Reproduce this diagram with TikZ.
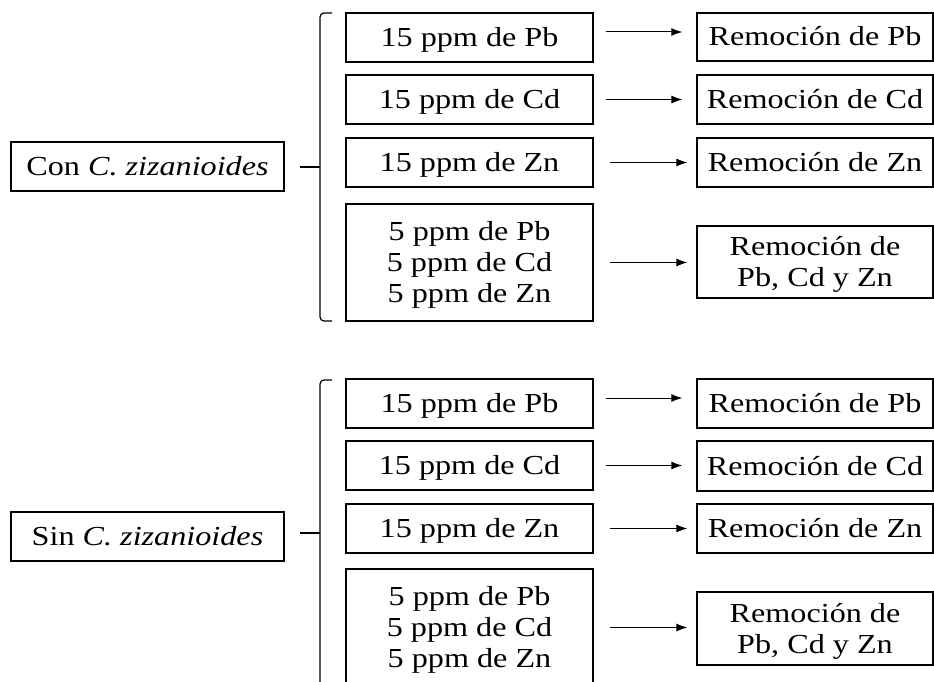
\documentclass[tikz,border=0pt]{standalone}
\usepackage{fontspec}
\setmainfont[FakeStretch=1.17]{Liberation Serif}
\usetikzlibrary{arrows.meta}
\begin{document}
\begin{tikzpicture}[x=1pt,y=-1pt]
            \tikzstyle{boxp}=[draw,line width=1.3pt,inner sep=0pt,font=\fontsize{27.5}{31}\selectfont,text height=18pt,text depth=0pt]
            \tikzstyle{multip}=[draw,line width=1.3pt,inner sep=0pt,font=\fontsize{27.5}{31}\selectfont,align=center]
            \tikzstyle{arrowp}=[line width=1pt,-{Latex[length=11pt,width=8pt]}]
            \tikzstyle{bracep}=[line width=1.2pt,rounded corners=4pt]

            \useasboundingbox (0,0) rectangle (934,682);
            \clip (0,0) rectangle (934,682);

            %con_group
            \node[boxp,minimum width=273pt,minimum height=49pt] (con) at (147.5,166.5) {Con \textit{C. zizanioides}};

            \node[boxp,minimum width=247pt,minimum height=49pt] (cm1) at (469.5,37.5) {15 ppm de Pb};
            \node[boxp,minimum width=247pt,minimum height=49pt] (cm2) at (469.5,99.5) {15 ppm de Cd};
            \node[boxp,minimum width=247pt,minimum height=49pt] (cm3) at (469.5,162.5) {15 ppm de Zn};
            \node[multip,minimum width=247pt,minimum height=117pt] (cm4) at (469.5,262.5) {\rule{0pt}{23pt}5 ppm de Pb\\5 ppm de Cd\\5 ppm de Zn};

            \node[boxp,minimum width=236pt,minimum height=48pt] (cr1) at (815,37) {Remoción de Pb};
            \node[boxp,minimum width=236pt,minimum height=49pt] (cr2) at (815,99.5) {Remoción de Cd};
            \node[boxp,minimum width=236pt,minimum height=49pt] (cr3) at (815,162.5) {Remoción de Zn};
            \node[multip,minimum width=236pt,minimum height=72pt] (cr4) at (815,262) {\rule{0pt}{24pt}Remoción de\\Pb, Cd y Zn};

            \draw[bracep] (332,13) -- (320,13) -- (320,321) -- (332,321);
            \draw[line width=1.2pt] (300,167) -- (320,167);

            %sin_group
            \node[boxp,minimum width=273pt,minimum height=49pt] (sin) at (147.5,536.5) {Sin \textit{C. zizanioides}};

            \node[boxp,minimum width=247pt,minimum height=49pt] (sm1) at (469.5,403.5) {15 ppm de Pb};
            \node[boxp,minimum width=247pt,minimum height=49pt] (sm2) at (469.5,465.5) {15 ppm de Cd};
            \node[boxp,minimum width=247pt,minimum height=49pt] (sm3) at (469.5,528.5) {15 ppm de Zn};
            \node[multip,minimum width=247pt,minimum height=117pt] (sm4) at (469.5,627.5) {\rule{0pt}{23pt}5 ppm de Pb\\5 ppm de Cd\\5 ppm de Zn};

            \node[boxp,minimum width=236pt,minimum height=49pt] (sr1) at (815,403.5) {Remoción de Pb};
            \node[boxp,minimum width=236pt,minimum height=50pt] (sr2) at (815,466) {Remoción de Cd};
            \node[boxp,minimum width=236pt,minimum height=49pt] (sr3) at (815,528.5) {Remoción de Zn};
            \node[multip,minimum width=236pt,minimum height=73pt] (sr4) at (815,628.5) {\rule{0pt}{24pt}Remoción de\\Pb, Cd y Zn};

            \draw[bracep] (332,380) -- (320,380) -- (320,686) -- (332,686);
            \draw[line width=1.2pt] (300,533) -- (320,533);

            %arrows
            \foreach \g in {c,s}
            {
                \draw[arrowp,shorten <=12pt,shorten >=14pt] ([yshift=5.5pt]\g m1.east) -- ([yshift=5.5pt]\g m1.east -| \g r1.west);
                \draw[arrowp,shorten <=12pt,shorten >=14pt] (\g m2.east) -- (\g m2.east -| \g r2.west);
                \draw[arrowp,shorten <=16pt,shorten >=9pt] (\g m3.east) -- (\g m3.east -| \g r3.west);
                \draw[arrowp,shorten <=16pt,shorten >=9pt] (\g m4.east) -- (\g m4.east -| \g r4.west);
            }

       \end{tikzpicture}
\end{document}
